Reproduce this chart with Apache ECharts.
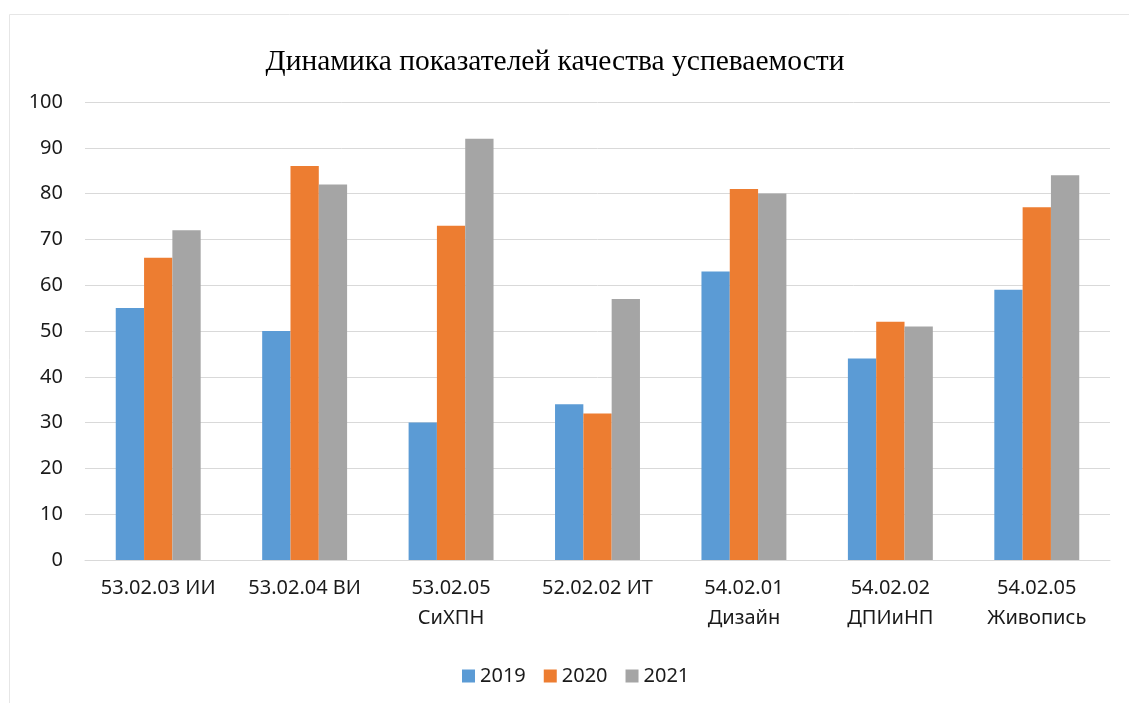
<!DOCTYPE html>
<html><head><meta charset="utf-8">
<script src="https://cdn.jsdelivr.net/npm/echarts@6/dist/echarts.min.js"></script>
<style>html,body{margin:0;padding:0;background:#fff}#c{width:1129px;height:703px}</style>
</head><body><div id="c"></div>
<script>
const categories = ["53.02.03 ИИ","53.02.04 ВИ","53.02.05\nСиХПН","52.02.02 ИТ","54.02.01\nДизайн","54.02.02\nДПИиНП","54.02.05\nЖивопись"];
const seriesNames = ["2019","2020","2021"];
const v2019 = [55,50,30,34,63,44,59];
const v2020 = [66,86,73,32,81,52,77];
const v2021 = [72,82,92,57,80,51,84];
const colors = ["#5B9BD5","#ED7D31","#A5A5A5"];
const chart = echarts.init(document.getElementById('c'));
const txt = {fontFamily:"Noto Sans", fontSize:20, color:"#1a1a1a"};
chart.setOption({
  animation:false,
  title:{text:"Динамика показателей качества успеваемости", left:550, textAlign:"center", top:42,
    textStyle:{fontFamily:"Liberation Serif", fontSize:29.5, fontWeight:"normal", color:"#000"}},
  graphic:[{type:"rect", shape:{x:9.5,y:14.5,width:1130,height:690}, style:{fill:"none", stroke:"#E6E6E6", lineWidth:1}}],
  legend:{data:seriesNames, left:457, top:661, itemWidth:13, itemHeight:13, itemGap:18, icon:"rect",
    textStyle:Object.assign({}, txt, {fontSize:20})},
  grid:{left:85, right:19, top:102, bottom:143},
  xAxis:{type:"category", data:categories, axisTick:{show:false},
    axisLine:{lineStyle:{color:"#D9D9D9"}},
    axisLabel:Object.assign({margin:13, lineHeight:30, interval:0}, txt)},
  yAxis:{type:"value", min:0, max:100, interval:10,
    axisLabel:Object.assign({margin:22}, txt),
    splitLine:{lineStyle:{color:"#D9D9D9"}}},
  series:[v2019,v2020,v2021].map((d,i)=>({name:seriesNames[i], type:"bar", data:d, barGap:"0%", barCategoryGap:"42%", itemStyle:{color:colors[i]}}))
});
</script></body></html>
